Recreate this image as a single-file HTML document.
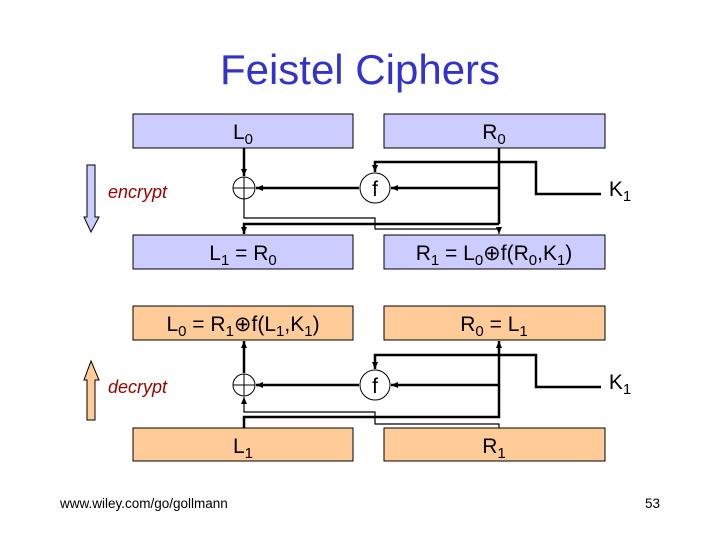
<!DOCTYPE html>
<html><head><meta charset="utf-8"><style>
body{margin:0;background:#fff}
svg{display:block;font-family:"Liberation Sans",Arial,sans-serif}
</style></head><body>
<svg width="720" height="540" viewBox="0 0 720 540" xmlns="http://www.w3.org/2000/svg">
<defs>
<marker id="a" markerWidth="8" markerHeight="8" refX="7" refY="4" orient="auto" markerUnits="userSpaceOnUse"><path d="M0,1 L7,4 L0,7 z" fill="#000"/></marker>
</defs>
<text x="360" y="84" font-size="42" fill="#3333cc" text-anchor="middle">Feistel Ciphers</text>
<g stroke="#000" stroke-width="1">
<rect x="133" y="114" width="220" height="34" fill="#ccccff"/>
<rect x="384" y="114" width="221" height="34" fill="#ccccff"/>
<rect x="133" y="235" width="220" height="34" fill="#ccccff"/>
<rect x="384" y="235" width="221" height="34" fill="#ccccff"/>
<rect x="133" y="306" width="220" height="34" fill="#ffcc99"/>
<rect x="384" y="306" width="221" height="34" fill="#ffcc99"/>
<rect x="133" y="428" width="220" height="33" fill="#ffcc99"/>
<rect x="384" y="428" width="221" height="33" fill="#ffcc99"/>
</g>
<g font-size="21" fill="#000" text-anchor="middle">
<text x="243" y="139">L<tspan font-size="15" dy="5">0</tspan></text>
<text x="494" y="139">R<tspan font-size="15" dy="5">0</tspan></text>
<text x="243" y="260">L<tspan font-size="15" dy="5">1</tspan><tspan dy="-5"> = R</tspan><tspan font-size="15" dy="5">0</tspan></text>
<text x="494" y="260">R<tspan font-size="15" dy="5">1</tspan><tspan dy="-5"> = L</tspan><tspan font-size="15" dy="5">0</tspan><tspan dy="-5">⊕f(R</tspan><tspan font-size="15" dy="5">0</tspan><tspan dy="-5">,K</tspan><tspan font-size="15" dy="5">1</tspan><tspan dy="-5">)</tspan></text>
<text x="243" y="331">L<tspan font-size="15" dy="5">0</tspan><tspan dy="-5"> = R</tspan><tspan font-size="15" dy="5">1</tspan><tspan dy="-5">⊕f(L</tspan><tspan font-size="15" dy="5">1</tspan><tspan dy="-5">,K</tspan><tspan font-size="15" dy="5">1</tspan><tspan dy="-5">)</tspan></text>
<text x="494" y="331">R<tspan font-size="15" dy="5">0</tspan><tspan dy="-5"> = L</tspan><tspan font-size="15" dy="5">1</tspan></text>
<text x="243" y="453">L<tspan font-size="15" dy="5">1</tspan></text>
<text x="494" y="453">R<tspan font-size="15" dy="5">1</tspan></text>
<text x="620" y="196">K<tspan font-size="15" dy="5">1</tspan></text>
<text x="620" y="389">K<tspan font-size="15" dy="5">1</tspan></text>
</g>
<g fill="none" stroke="#000" stroke-width="2.5">
<line x1="244" y1="148" x2="244" y2="176" marker-end="url(#a)"/>
<line x1="499" y1="148" x2="499" y2="224"/>
<line x1="499" y1="188" x2="391" y2="188" marker-end="url(#a)"/>
<line x1="359" y1="188" x2="256" y2="188" marker-end="url(#a)"/>
<polyline points="601,194 536,194 536,162 375,162 375,172" marker-end="url(#a)"/>
<polyline points="499,224 244,224 244,234" marker-end="url(#a)"/>
</g>
<polyline points="244,199 244,218 375,218 375,229 499,229 499,234" fill="none" stroke="#000" stroke-width="1.2" marker-end="url(#a)"/>
<circle cx="244" cy="188" r="11" fill="#fff" stroke="#000"/>
<line x1="233" y1="188" x2="255" y2="188" stroke="#000"/><line x1="244" y1="177" x2="244" y2="199" stroke="#000"/>
<circle cx="375" cy="188" r="15" fill="#fff" stroke="#000"/>
<text x="375" y="196" font-size="21" text-anchor="middle">f</text>
<g fill="none" stroke="#000" stroke-width="2.5">
<line x1="244" y1="373" x2="244" y2="341" marker-end="url(#a)"/>
<polyline points="244,428 244,417 499,417 499,341" marker-end="url(#a)"/>
<line x1="499" y1="385" x2="391" y2="385" marker-end="url(#a)"/>
<line x1="359" y1="385" x2="256" y2="385" marker-end="url(#a)"/>
<polyline points="601,387 536,387 536,355 375,355 375,369" marker-end="url(#a)"/>
</g>
<polyline points="499,428 499,424 375,424 375,412 244,412 244,397" fill="none" stroke="#000" stroke-width="1.2" marker-end="url(#a)"/>
<circle cx="244" cy="385" r="11" fill="#fff" stroke="#000"/>
<line x1="233" y1="385" x2="255" y2="385" stroke="#000"/><line x1="244" y1="374" x2="244" y2="396" stroke="#000"/>
<circle cx="375" cy="385" r="15" fill="#fff" stroke="#000"/>
<text x="375" y="393" font-size="21" text-anchor="middle">f</text>
<path d="M87,165 L95,165 L95,217 L99,217 L91,232 L84,217 L87,217 Z" fill="#ccccff" stroke="#000"/>
<path d="M87,420 L95,420 L95,380 L99,380 L91,361 L84,380 L87,380 Z" fill="#ffcc99" stroke="#000"/>
<text x="108" y="198" font-size="18" font-style="italic" fill="#990000">encrypt</text>
<text x="108" y="393" font-size="18" font-style="italic" fill="#990000">decrypt</text>
<text x="60" y="508" font-size="13.5" fill="#000">www.wiley.com/go/gollmann</text>
<text x="660" y="508" font-size="13.5" fill="#000" text-anchor="end">53</text>
</svg>
</body></html>
